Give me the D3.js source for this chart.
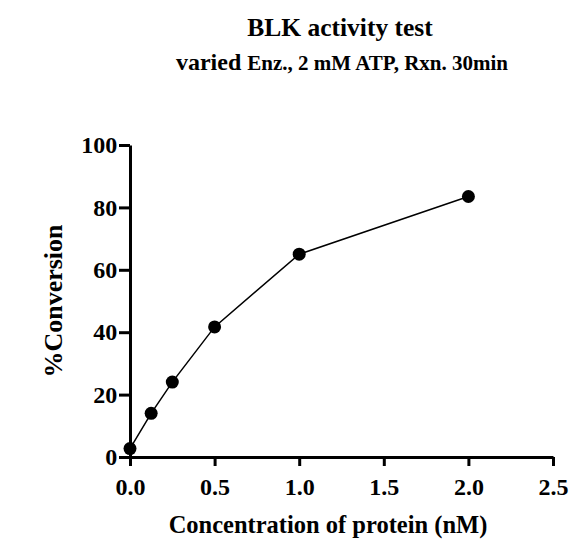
<!DOCTYPE html>
<html>
<head>
<meta charset="utf-8">
<script src="https://cdn.jsdelivr.net/npm/d3@7"></script>
<style>
  body { margin: 0; background: #fff; }
  text { font-family: "Liberation Serif", "Times New Roman", serif; font-weight: bold; }
</style>
</head>
<body>
<svg id="chart" width="584" height="550"></svg>
<script>
// data
var concentrations = [0, 0.125, 0.25, 0.5, 1, 2];
var conversions = [2.7, 14, 24, 41.7, 65, 83.5];
var xTicks = [0, 0.5, 1, 1.5, 2, 2.5];
var yTicks = [0, 20, 40, 60, 80, 100];

var svg = d3.select('#chart');

var x = d3.scaleLinear().domain([0, 2.5]).range([130, 553]);
var y = d3.scaleLinear().domain([0, 100]).range([457, 145]);

// titles
svg.append('text').attr('x', 340).attr('y', 36).attr('text-anchor', 'middle')
    .style('font-size', '25.5px').text('BLK activity test');
var sub = svg.append('text').attr('x', 342).attr('y', 70).attr('text-anchor', 'middle')
    .style('font-size', '21px');
sub.append('tspan').style('font-size', '24px').text('varied ');
sub.append('tspan').text('Enz., 2 mM ATP, Rxn. 30min');

// axes
var xAxis = svg.append('g').attr('transform', 'translate(0,457)')
    .call(d3.axisBottom(x).tickValues(xTicks).tickFormat(d3.format('.1f')).tickSize(9).tickSizeOuter(0));
var yAxis = svg.append('g').attr('transform', 'translate(130,0)')
    .call(d3.axisLeft(y).tickValues(yTicks).tickSize(11).tickSizeOuter(0));

[xAxis, yAxis].forEach(function(a) {
    a.select('.domain').attr('stroke', '#000').attr('stroke-width', 3);
    a.selectAll('.tick line').attr('stroke', '#000').attr('stroke-width', 3);
    a.selectAll('.tick text').attr('fill', '#000').style('font-size', '24px')
        .style('font-family', '"Liberation Serif", serif').style('font-weight', 'bold');
});
xAxis.selectAll('.tick text').attr('dy', '1.1em');
yAxis.selectAll('.tick text').attr('dx', '0.05em');

// axis titles
svg.append('text').attr('x', 328).attr('y', 533).attr('text-anchor', 'middle')
    .style('font-size', '24.5px').text('Concentration of protein (nM)');
svg.append('text').attr('transform', 'translate(62,301) rotate(-90)').attr('text-anchor', 'middle')
    .style('font-size', '26px').text('%Conversion');

// line + points
var pts = concentrations.map(function(c, i) { return [c, conversions[i]]; });
svg.append('path').datum(pts)
    .attr('fill', 'none').attr('stroke', '#000').attr('stroke-width', 1.5)
    .attr('d', d3.line().x(function(d) { return x(d[0]); }).y(function(d) { return y(d[1]); }));
svg.selectAll('circle.pt').data(pts).enter().append('circle')
    .attr('class', 'pt')
    .attr('cx', function(d) { return x(d[0]); })
    .attr('cy', function(d) { return y(d[1]); })
    .attr('r', 6.5).attr('fill', '#000');
</script>
</body>
</html>
